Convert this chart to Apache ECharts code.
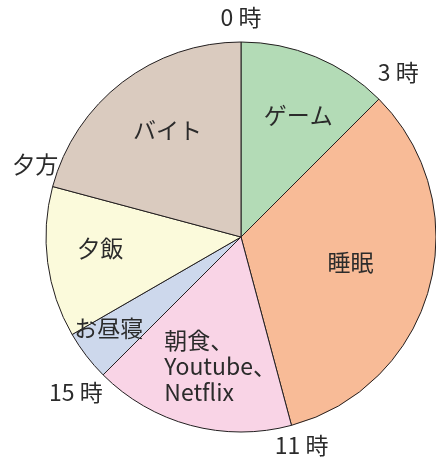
<!DOCTYPE html>
<html>
<head>
<meta charset="utf-8">
<script src="https://cdn.jsdelivr.net/npm/echarts@6/dist/echarts.min.js"></script>
<style>
    html, body { margin: 0; padding: 0; background: #fff; }
    #main { width: 436px; height: 462px; }
</style>
</head>
<body>
<div id="main"></div>
<script>
// 1日の過ごし方 (時間)
var activities = ['ゲーム', '睡眠', '朝食、\nYoutube、\nNetflix', 'お昼寝', '夕飯', 'バイト'];
var hours = [3, 8, 4, 1, 3, 5];
var colors = ['#b3dbb6', '#f8bb97', '#f9d4e6', '#cdd8ec', '#fbfadb', '#dacbbf'];
// 円周上の時刻ラベル
var markHours = [0, 3, 11, 15, 19];
var markNames = ['0 時', '3 時', '11 時', '15 時', '夕方'];
// ラベルの微調整
var labelShift = [[6, 2], [-20, -9], [14, 0], [-26, 10], [-8, -6], [8, 0]];
var markShift = [[0, 3], [0, -8], [3, -6], [-8, -2], [9, -15]];

var dom = document.getElementById('main');
var myChart = echarts.init(dom, null, { renderer: 'canvas' });

var FONT = '"Noto Sans CJK JP", "Noto Sans", sans-serif';
var FS = 23;
var TXT = '#2b2b2b';
var CX = 241, CY = 237, R = 195;

var pieData = activities.map(function (name, i) {
    return { name: name, value: hours[i], itemStyle: { color: colors[i] } };
});

var markData = markHours.map(function (h, i) {
    return { name: markNames[i], value: [1.14, h], label: { offset: markShift[i] } };
});

var option = {
    backgroundColor: '#ffffff',
    animation: false,
    polar: {
        center: [CX, CY],
        radius: R
    },
    angleAxis: {
        type: 'value',
        min: 0,
        max: 24,
        interval: 1,
        startAngle: 90,
        clockwise: true,
        axisLine: { show: false },
        axisTick: { show: false },
        splitLine: { show: false },
        axisLabel: { show: false }
    },
    radiusAxis: {
        show: false,
        min: 0,
        max: 1
    },
    series: [
        {
            name: '1日',
            type: 'pie',
            center: [CX, CY],
            radius: R,
            startAngle: 90,
            clockwise: true,
            silent: true,
            label: { show: false },
            labelLine: { show: false },
            itemStyle: {
                borderColor: '#231f20',
                borderWidth: 1
            },
            data: pieData
        },
        {
            // ラベルだけを描く透明な円
            name: 'labels',
            type: 'pie',
            center: [CX, CY],
            radius: [0, 262],
            startAngle: 90,
            clockwise: true,
            silent: true,
            itemStyle: { color: 'rgba(0,0,0,0)', borderWidth: 0 },
            labelLine: { show: false },
            label: {
                show: true,
                position: 'inside',
                fontFamily: FONT,
                fontSize: FS,
                color: TXT,
                formatter: function (p) {
                    if (p.dataIndex === 2) {
                        return '{m|' + p.name.split('\n').join('}\n{m|') + '}';
                    }
                    return p.name;
                },
                rich: {
                    m: {
                        fontFamily: FONT,
                        fontSize: FS,
                        color: TXT,
                        width: 112,
                        align: 'left',
                        lineHeight: 26
                    }
                }
            },
            labelLayout: function (params) {
                var s = labelShift[params.dataIndex] || [0, 0];
                return { dx: s[0], dy: s[1] };
            },
            data: activities.map(function (name, i) {
                return { name: name, value: hours[i] };
            })
        },
        {
            // 時刻の目盛り
            name: 'hours',
            type: 'scatter',
            coordinateSystem: 'polar',
            clip: false,
            silent: true,
            symbolSize: 1,
            itemStyle: { color: 'rgba(0,0,0,0)', opacity: 1 },
            label: {
                show: true,
                position: 'inside',
                fontFamily: FONT,
                fontSize: FS,
                color: TXT,
                opacity: 1,
                formatter: '{b}'
            },
            data: markData
        }
    ]
};

myChart.setOption(option);
window.onresize = function () {
    myChart.resize();
};
</script>
</body>
</html>
